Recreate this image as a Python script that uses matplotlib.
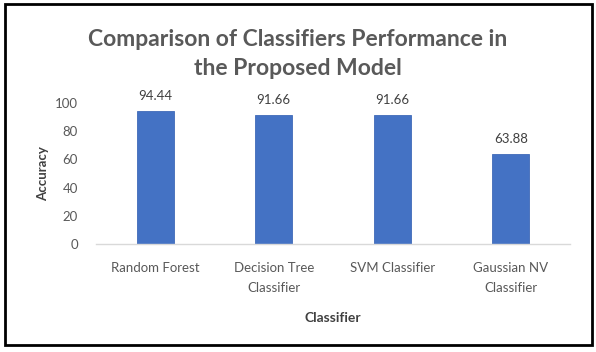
import matplotlib
matplotlib.use("Agg")
import matplotlib.pyplot as plt
from matplotlib.patches import Rectangle

categories = ["Random Forest", "Decision Tree\nClassifier", "SVM Classifier", "Gaussian NV\nClassifier"]
accuracy = [94.44, 91.66, 91.66, 63.88]
value_labels = ["94.44", "91.66", "91.66", "63.88"]
yticks = [0, 20, 40, 60, 80, 100]

W, H = 596, 352
fig = plt.figure(figsize=(W / 100, H / 100), dpi=100)
plt.rcParams['font.family'] = ['Lato', 'DejaVu Sans']

ax = fig.add_axes([96 / W, 1 - 244 / H, (570 - 96) / W, (244 - 103) / H])
x = range(len(categories))
bars = ax.bar(x, accuracy, width=0.31, color="#4472C4", edgecolor="#3f6ab8", linewidth=0.6, zorder=2)
ax.set_xlim(-0.5, len(categories) - 0.5)
ax.set_ylim(0, 100)
ax.set_yticks(yticks)
ax.set_yticklabels([str(t) for t in yticks], fontsize=9.5, color="#595959")
ax.set_xticks(list(x))
ax.set_xticklabels(categories, fontsize=9.5, color="#595959", linespacing=1.75)
ax.tick_params(axis="both", length=0)
ax.tick_params(axis="y", pad=13)
ax.tick_params(axis="x", pad=13)
for s in ["top", "right", "left"]:
    ax.spines[s].set_visible(False)
ax.spines["bottom"].set_color("#d9d9d9")
ax.spines["bottom"].set_linewidth(1)

for xi, v, lab in zip(x, accuracy, value_labels):
    ax.text(xi, v + 6, lab, ha="center", va="bottom", fontsize=9.5, color="#404040", clip_on=False)

ax.set_ylabel("Accuracy", fontsize=9.5, fontweight="bold", color="#404040", labelpad=4)
ax.set_xlabel("Classifier", fontsize=10, fontweight="bold", color="#404040", labelpad=13)

fig.text(0.5, 1 - 54 / H, "Comparison of Classifiers Performance in\nthe Proposed Model",
         ha="center", va="center", fontsize=16.5, fontweight="bold", color="#595959", linespacing=1.45)

fig.patches.append(Rectangle((5 / W, 1 - 345 / H), (592 - 5) / W, (345 - 4) / H,
                             transform=fig.transFigure, fill=False, edgecolor="black", linewidth=2))

fig.savefig("out.png", dpi=100)
